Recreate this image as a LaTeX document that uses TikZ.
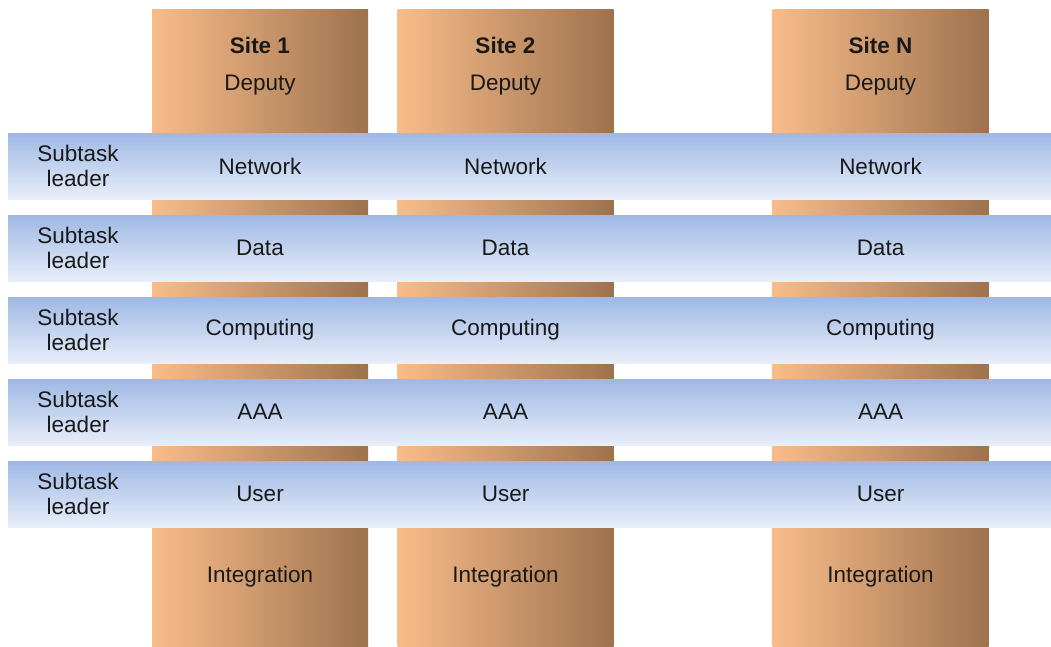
\documentclass[tikz,border=0pt]{standalone}
\usepackage{fontspec}
\setmainfont{Liberation Sans}
\usetikzlibrary{positioning}
\definecolor{colL}{RGB}{248,188,138}
\definecolor{colR}{RGB}{158,114,78}
\definecolor{bandT}{RGB}{158,184,228}
\definecolor{bandB}{RGB}{232,238,249}
\tikzset{
  sitecol/.style={rectangle, inner sep=0pt, minimum width=216pt, minimum height=637pt,
    left color=colL, right color=colR},
  taskband/.style={rectangle, inner sep=0pt, minimum width=1043pt, minimum height=66pt,
    top color=bandT, bottom color=bandB},
  lbl/.style={font=\fontsize{22.5}{25}\selectfont, text=black!90, align=center},
  sitehead/.style={lbl, font=\bfseries\fontsize{22.5}{25}\selectfont}
}

\begin{document}
\begin{tikzpicture}[x=1pt,y=-1pt]
\useasboundingbox (0,0) rectangle (1051,646);
% site columns
\node[sitecol] (s1) at (260,327.5) {};
\node[sitecol] (s2) at (505.5,327.5) {};
\node[sitecol] (sN) at (880.5,327.5) {};
\node[sitehead] (h1) at (260,45) {Site 1};
\node[sitehead] (h2) at (505.5,45) {Site 2};
\node[sitehead] (hN) at (880.5,45) {Site N};
\foreach \s in {1,2,N} {
  \node[lbl] (dep\s) at (h\s |- 0,85) {Deputy};
  \node[lbl] (int\s) at (h\s |- 0,577) {Integration};
}
% subtask bands
\foreach \b/\y/\t in {net/166/Network, data/248/Data, comp/330/Computing, aaa/412/AAA, user/494/User} {
  \node[taskband] (\b) at (529.5,\y) {};
  \node[lbl] (\b lead) at (78,\y) {Subtask\\leader};
  \foreach \s in {1,2,N}
    \node[lbl] (\b\s) at (h\s |- \b) {\t};
}
\end{tikzpicture}
\end{document}
